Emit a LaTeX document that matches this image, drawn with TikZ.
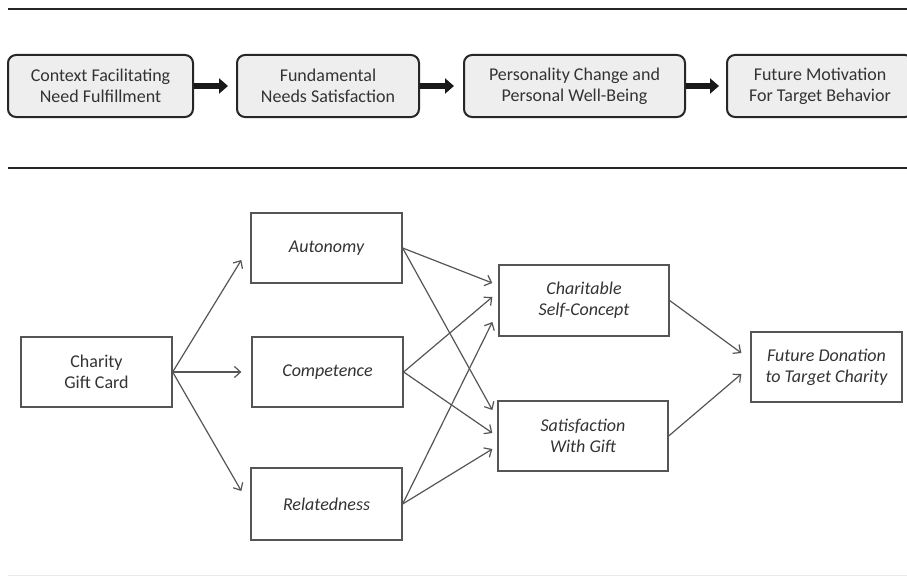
\documentclass[tikz,border=0pt]{standalone}
\usepackage{fontspec}
\setmainfont{Carlito}
\usetikzlibrary{arrows.meta}
\definecolor{ink}{HTML}{333333}
\definecolor{lin}{HTML}{555555}
\definecolor{boxfill}{HTML}{EEEEEE}
\begin{document}
\begin{tikzpicture}[x=1pt,y=-1pt,
  topbox/.style={draw=black!85, line width=2pt, rounded corners=8pt, fill=boxfill,
    minimum height=62pt, align=center, text=ink, inner sep=2pt,
    font=\fontsize{18}{21}\selectfont},
  botbox/.style={draw=lin, line width=1.3pt, minimum height=70pt, align=center,
    text=ink, inner sep=2pt, font=\fontsize{18}{21}\selectfont},
  itbox/.style={botbox, font=\fontsize{18}{21}\selectfont\itshape},
  bigarr/.style={line width=6.5pt, black!90, -{Triangle[length=9pt,width=15pt]}},
  arr/.style={line width=1.2pt, lin, -{Straight Barb[length=6pt,width=11pt,line width=1.2pt]}},
  rule/.style={line width=2pt, black!85}
]
\useasboundingbox (0,0) rectangle (907,578);
% rules
\coordinate (r1a) at (8,9);   \coordinate (r1b) at (907,9);
\coordinate (r2a) at (8,168); \coordinate (r2b) at (907,168);
\coordinate (r3a) at (8,575); \coordinate (r3b) at (907,575);
\draw[rule] (r1a) -- (r1b);
\draw[rule] (r2a) -- (r2b);
\draw[line width=1pt, black!8] (r3a) -- (r3b);
% top row
\node[topbox, minimum width=185pt] (b1) at (100.5,86) {Context Facilitating\\Need Fulfillment};
\node[topbox, minimum width=182pt] (b2) at (328,86) {Fundamental\\Needs Satisfaction};
\node[topbox, minimum width=221pt] (b3) at (574.5,86) {Personality Change and\\Personal Well-Being};
\node[topbox, minimum width=186pt] (b4) at (820,86) {Future Motivation\\For Target Behavior};
\draw[bigarr] (b1.east) -- ([xshift=-8pt]b2.west);
\draw[bigarr] (b2.east) -- ([xshift=-9pt]b3.west);
\draw[bigarr] (b3.east) -- ([xshift=-7pt]b4.west);
% bottom model
\node[botbox, minimum width=151pt] (gift) at (96.5,372) {Charity\\Gift Card};
\node[itbox, minimum width=151pt] (auton) at (326.5,248) {Autonomy};
\node[itbox, minimum width=151pt] (comp) at (327.5,372) {Competence};
\node[itbox, minimum width=151pt, minimum height=72pt] (rel) at (326.5,504) {Relatedness};
\node[itbox, minimum width=170pt, minimum height=71pt] (char) at (584,300.5) {Charitable\\Self-Concept};
\node[itbox, minimum width=170pt] (sat) at (583,436) {Satisfaction\\With Gift};
\node[itbox, minimum width=151pt] (fut) at (826.5,367) {Future Donation\\to Target Charity};
% arrows
\draw[arr] (gift.east) -- ([xshift=-9pt,yshift=-12pt]auton.west);
\draw[arr] (gift.east) -- ([xshift=-10pt]comp.west);
\draw[arr] (gift.east) -- ([xshift=-9pt,yshift=13pt]rel.west);
\draw[arr] (auton.east) -- ([xshift=-6pt,yshift=17.5pt]char.west);
\draw[arr] (comp.east) -- ([xshift=-6pt,yshift=3.5pt]char.west);
\draw[arr] (rel.east) -- ([xshift=-6pt,yshift=-21.5pt]char.west);
\draw[arr] (auton.east) -- ([xshift=-5pt,yshift=26pt]sat.west);
\draw[arr] (comp.east) -- ([xshift=-5pt,yshift=3pt]sat.west);
\draw[arr] (rel.east) -- ([xshift=-5pt,yshift=-13pt]sat.west);
\draw[arr] (char.east) -- ([xshift=-9pt,yshift=14pt]fut.west);
\draw[arr] (sat.east) -- ([xshift=-9pt,yshift=-7pt]fut.west);
\end{tikzpicture}
\end{document}
